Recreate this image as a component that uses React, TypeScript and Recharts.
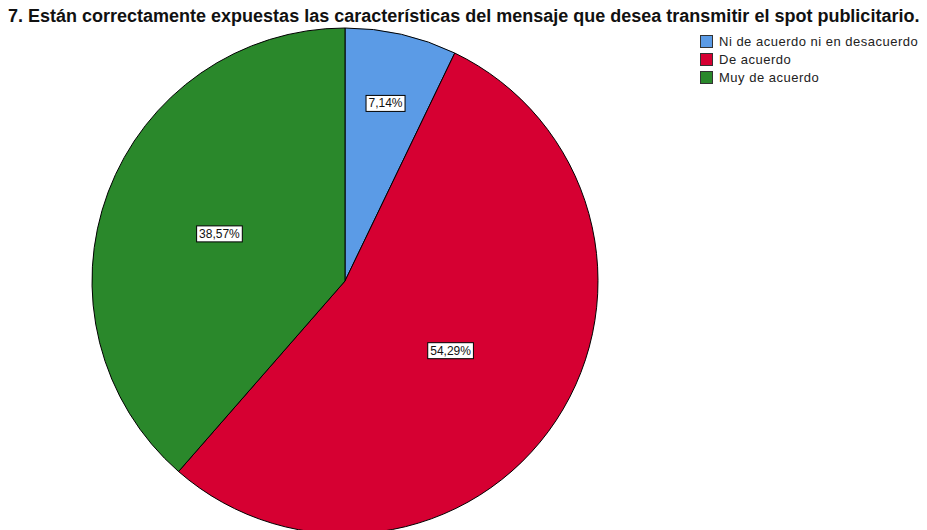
import React from "react";
import { PieChart, Pie, Cell } from "recharts";

const categories = ["Ni de acuerdo ni en desacuerdo", "De acuerdo", "Muy de acuerdo"];
const counts = [5, 38, 27];
const colors = ["#5b9be6", "#d60032", "#2a882b"];

const title =
    "7. Están correctamente expuestas las características del mensaje que desea transmitir el spot publicitario.";

const data = categories.map((name, i) => ({ name, value: counts[i] }));

// how far out along the slice each percentage box sits (share of the radius)
const labelRadius = [0.72, 0.5, 0.53];

const RAD = Math.PI / 180;
const FONT = "'Liberation Sans', Arial, sans-serif";

function textWidth(s: string) {
    let w = 0;
    for (const ch of s) {
        if (ch === ",") w += 3.33;
        else if (ch === "%") w += 10.67;
        else w += 6.67;
    }
    return w;
}

function PercentLabel(props: any) {
    const { cx, cy, midAngle, outerRadius, percent, index } = props;
    const r = outerRadius * labelRadius[index];
    const x = cx + r * Math.cos(-midAngle * RAD);
    const y = cy + r * Math.sin(-midAngle * RAD);
    const text = (percent * 100).toFixed(2).replace(".", ",") + "%";
    const w = textWidth(text) + 5;
    return (
        <g>
            <rect x={x - w / 2} y={y - 8} width={w} height={16} fill="#fff" stroke="#000" strokeWidth={1} />
            <text x={x} y={y + 4} textAnchor="middle" fontFamily={FONT} fontSize={12} fill="#111">
                {text}
            </text>
        </g>
    );
}

function LegendBox() {
    return (
        <div
            style={{
                position: "absolute",
                left: 700,
                top: 32,
                fontFamily: FONT,
                fontSize: 13,
                letterSpacing: 0.5,
                color: "#222",
            }}
        >
            {categories.map((name, i) => (
                <div key={name} style={{ display: "flex", alignItems: "center", height: 18 }}>
                    <span
                        style={{
                            display: "inline-block",
                            width: 11,
                            height: 11,
                            background: colors[i],
                            border: "1px solid #333",
                            marginRight: 6,
                        }}
                    />
                    <span>{name}</span>
                </div>
            ))}
        </div>
    );
}

export default function App() {
    return (
        <div style={{ position: "absolute", left: 0, top: 0, width: 927, height: 530, background: "#fff" }}>
            <PieChart width={927} height={530} margin={{ top: 0, right: 0, bottom: 0, left: 0 }}>
                <Pie
                    data={data}
                    dataKey="value"
                    nameKey="name"
                    cx={345}
                    cy={281}
                    outerRadius={253}
                    startAngle={90}
                    endAngle={-270}
                    stroke="#000"
                    strokeWidth={1}
                    label={PercentLabel}
                    labelLine={false}
                    isAnimationActive={false}
                >
                    {data.map((d, i) => (
                        <Cell key={d.name} fill={colors[i]} />
                    ))}
                </Pie>
            </PieChart>
            <div
                style={{
                    position: "absolute",
                    left: 8,
                    top: 6,
                    fontFamily: FONT,
                    fontWeight: "bold",
                    fontSize: 18,
                    color: "#111",
                    whiteSpace: "nowrap",
                }}
            >
                {title}
            </div>
            <LegendBox />
        </div>
    );
}
